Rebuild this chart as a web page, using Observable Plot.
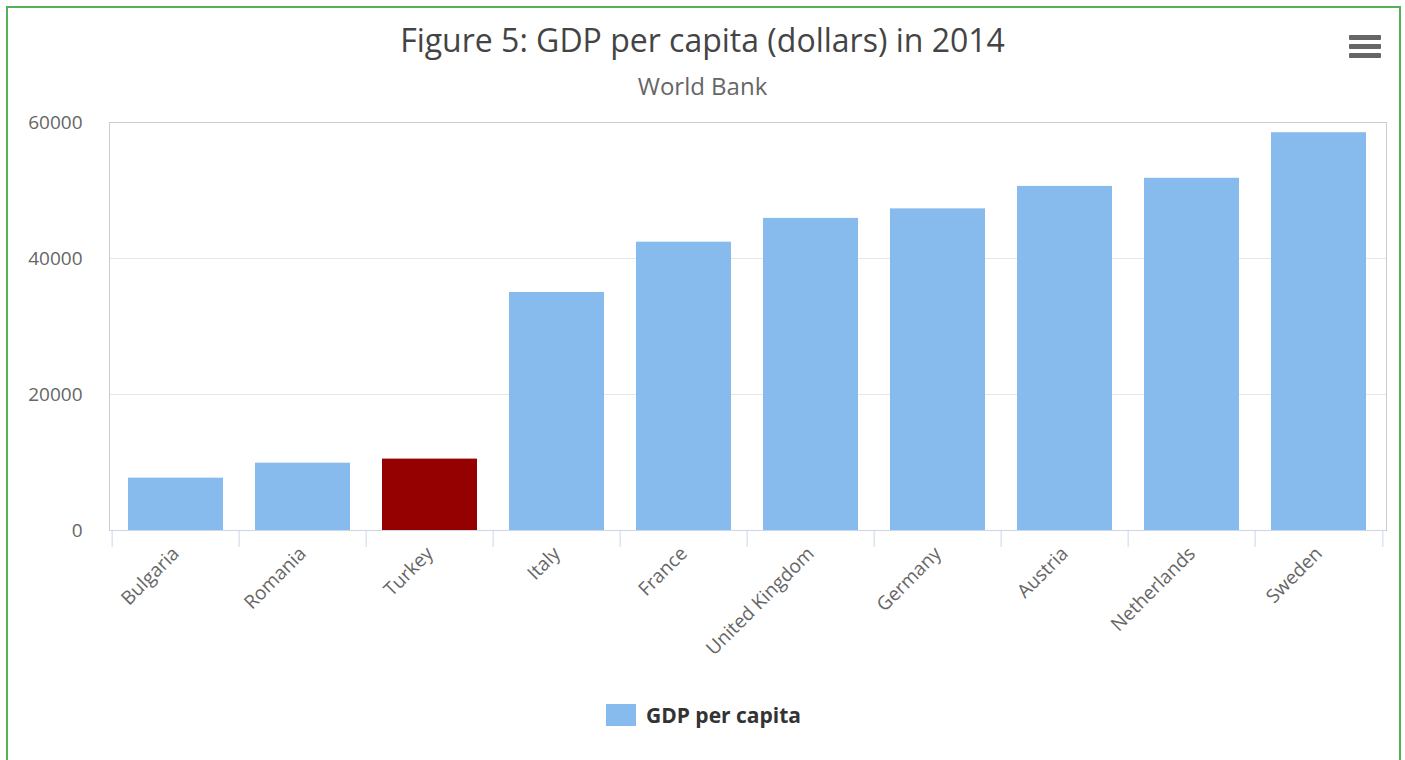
<!DOCTYPE html>
<html>
<head>
<meta charset="utf-8">
<script src="https://cdn.jsdelivr.net/npm/d3@7"></script>
<script src="https://cdn.jsdelivr.net/npm/@observablehq/plot@0.6"></script>
<style>
  html, body { margin: 0; padding: 0; background: #fff; width: 1405px; height: 760px; overflow: hidden; }
  #frame { position: absolute; left: 6px; top: 6px; width: 1395px; height: 760px; border: 2px solid #55b155; border-bottom: none; box-sizing: border-box; }
  #title { position: absolute; top: 18px; left: 0; width: 1405px; text-align: center; font-family: "Open Sans", sans-serif; font-size: 32px; color: #444; }
  #subtitle { position: absolute; top: 69px; left: 0; width: 1405px; text-align: center; font-family: "Open Sans", sans-serif; font-size: 24px; color: #666; }
  #chart { position: absolute; left: 0; top: 110px; }
  #chart svg g[aria-label="x-axis tick label"] text { font-size: 19px; }
  #chart svg g[aria-label="y-axis tick label"] text { font-size: 19px; }
  #menu { position: absolute; left: 1349px; top: 35px; width: 32px; }
  #menu div { height: 5px; background: #666; margin-bottom: 4px; border-radius: 1px; }
  #legend { position: absolute; top: 701px; left: 0; width: 1405px; display: flex; justify-content: center; align-items: center; font-family: "Open Sans", sans-serif; font-weight: bold; font-size: 21px; color: #333; }
  #legend .sw { width: 30px; height: 22px; background: #87bbee; margin-right: 10px; margin-left: 2px; }
</style>
</head>
<body>
<div id="frame"></div>
<div id="title">Figure 5: GDP per capita (dollars) in 2014</div>
<div id="subtitle">World Bank</div>
<div id="menu"><div></div><div></div><div></div></div>
<div id="chart"></div>
<div id="legend"><span class="sw"></span><span>GDP per capita</span></div>
<script>
const countries = ["Bulgaria", "Romania", "Turkey", "Italy", "France", "United Kingdom", "Germany", "Austria", "Netherlands", "Sweden"];
const gdp = [7700, 9900, 10500, 35000, 42400, 45900, 47300, 50600, 51800, 58500];
const highlight = "Turkey";
const yTicks = [0, 20000, 40000, 60000];

const data = countries.map((c, i) => ({country: c, value: gdp[i]}));

const W = 1405, H = 560;
const mL = 109, mR = 19, mT = 12, mB = 140;
const step = (W - mL - mR) / countries.length;

const chart = Plot.plot({
  width: W,
  height: H,
  marginLeft: mL,
  marginRight: mR,
  marginTop: mT,
  marginBottom: mB,
  style: {fontFamily: "Open Sans, sans-serif", fontSize: "16px", color: "#666", background: "transparent"},
  x: {domain: countries, paddingInner: 0.25, paddingOuter: 0.125, label: null},
  y: {domain: [0, 60000], label: null},
  marks: [
    Plot.gridY(yTicks.filter(d => d > 0 && d < 60000), {stroke: "#e6e6e6", strokeOpacity: 1}),
    Plot.barY(data, {x: "country", y: "value", fill: d => d.country === highlight ? "#950000" : "#87bbee"}),
    Plot.frame({stroke: "#cccccc"}),
    Plot.ruleY([0], {stroke: "#ccd6eb"}),
    Plot.ruleX(countries, {x: d => d, dx: -step / 2, y1: 0, y2: -2500, stroke: "#ccd6eb"}),
    Plot.ruleX([countries[countries.length - 1]], {x: d => d, dx: step / 2, y1: 0, y2: -2500, stroke: "#ccd6eb"}),
    Plot.axisY({ticks: yTicks, tickSize: 0, tickPadding: 27, tickFormat: d => String(d), fill: "#666"}),
    Plot.axisX({tickSize: 0, tickRotate: -45, tickPadding: 20, fill: "#666"})
  ]
});
document.getElementById("chart").appendChild(chart);
</script>
</body>
</html>
